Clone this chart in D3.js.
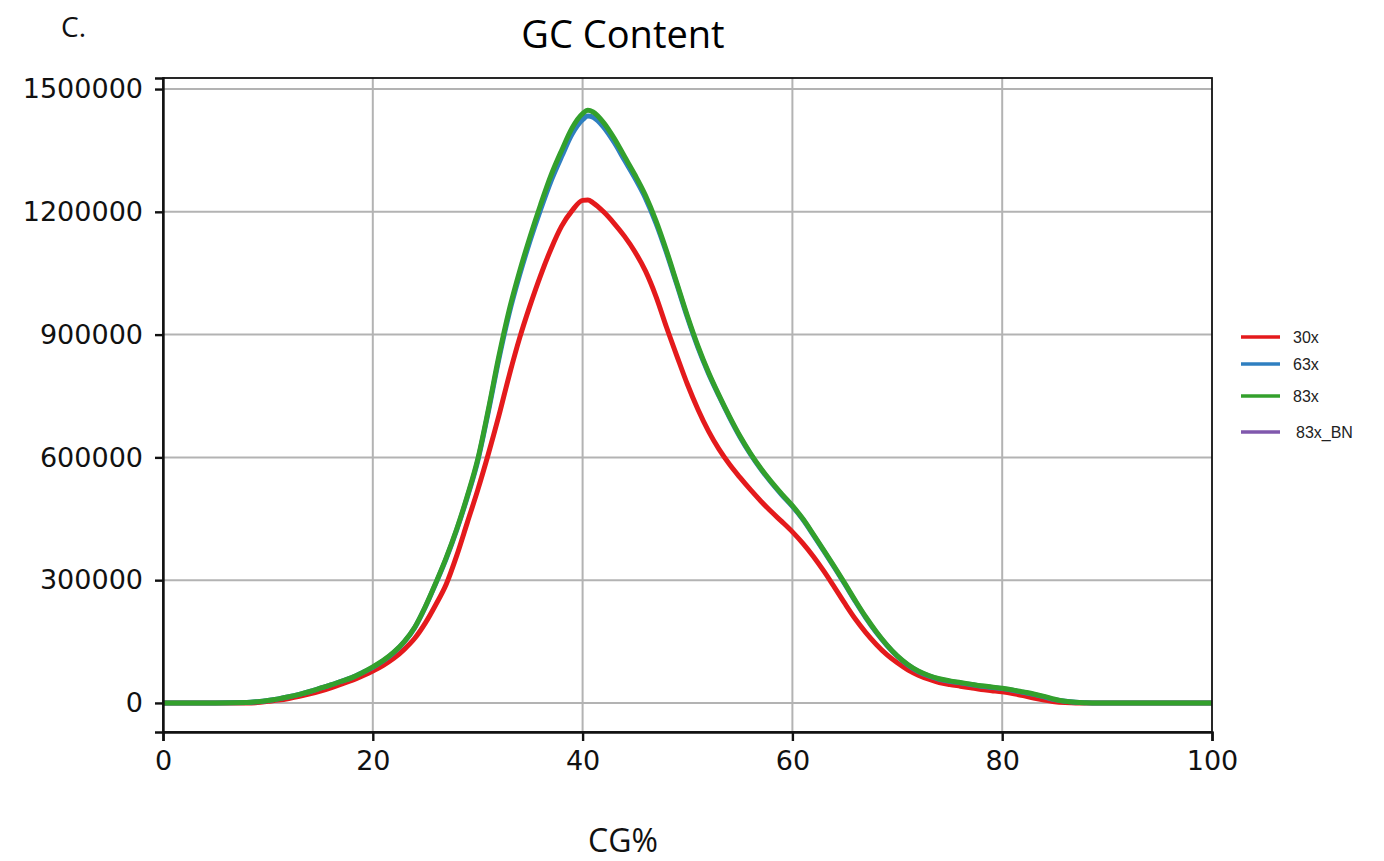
<!DOCTYPE html>
<html>
<head>
<meta charset="utf-8">
<script src="https://cdn.jsdelivr.net/npm/d3@7/dist/d3.min.js"></script>
<style>
  html, body { margin: 0; padding: 0; background: #fff; overflow: hidden; }
  svg { display: block; }
</style>
</head>
<body>
<svg id="chart" width="1384" height="861"></svg>
<script>
// GC percentage bins (x axis)
const gcPercent = [0,5,8,9,10,11,12,13,14,15,16,17,18,19,20,21,22,23,24,25,26,27,28,29,30,
  31,32,33,34,35,36,37,38,39,40,40.5,41,42,43,44,45,46,47,48,49,50,51,52,53,54,55,56,57,58,59,60,
  61,62,63,64,65,66,67,68,69,70,71,72,73,74,75,76,77,78,79,80,81,82,83,84,85,86,87,88,89,100];

// Read counts per GC bin
const cov30x = [0,0,0,1000,4000,7000,11000,16000,22000,29000,37000,46000,55000,66000,78000,92000,109000,131000,158000,195000,240000,290000,360000,440000,520000,
  607000,700000,800000,892000,972000,1045000,1110000,1165000,1203000,1228000,1229000,1222000,1200000,1172000,1140000,1102000,1055000,993000,918000,847000,778000,717000,664000,620000,583000,551000,521000,493000,467000,443000,418000,
  390000,358000,322000,283000,243000,205000,172000,143000,118000,98000,81000,68000,58000,50000,45000,41000,37000,33000,30000,27000,23000,18000,12000,7000,3000,1000,0,0,0,0];

const cov63x = [0,0,1000,3000,6000,10000,15000,21000,28000,36000,44000,53000,62000,74000,87000,103000,123000,149000,184000,234000,292000,353000,423000,502000,591000,
  710000,838000,952000,1046000,1130000,1206000,1276000,1335000,1390000,1425000,1434000,1431000,1407000,1370000,1326000,1282000,1233000,1172000,1100000,1021000,941000,868000,805000,750000,698000,650000,608000,571000,538000,508000,480000,
  448000,410000,371000,331000,290000,248000,208000,172000,141000,114000,93000,77000,66000,58000,53000,49000,45000,41000,38000,35000,31000,26000,21000,15000,8000,4000,1500,500,0,0];

const cov83x = [0,0,1000,3000,6000,10000,15000,21000,28000,36000,44000,53000,62000,74000,88000,104000,124000,150000,185000,235000,293000,355000,425000,505000,595000,
  715000,845000,960000,1055000,1140000,1218000,1290000,1350000,1405000,1440000,1448000,1444000,1418000,1380000,1335000,1290000,1240000,1178000,1105000,1025000,945000,872000,808000,752000,700000,652000,610000,573000,540000,510000,482000,
  450000,412000,373000,333000,292000,250000,210000,174000,142000,115000,94000,78000,67000,59000,54000,50000,46000,42000,39000,36000,32000,27000,22000,16000,9000,4000,1500,500,0,0];

const cov83xBN = [0,0,1000,3000,6000,10000,15000,21000,28000,36000,44000,53000,62000,74000,88000,104000,124000,150000,185000,235000,293000,355000,425000,505000,595000,
  715000,845000,960000,1055000,1140000,1218000,1290000,1350000,1405000,1440000,1448000,1444000,1418000,1380000,1335000,1290000,1240000,1178000,1105000,1025000,945000,872000,808000,752000,700000,652000,610000,573000,540000,510000,482000,
  450000,412000,373000,333000,292000,250000,210000,174000,142000,115000,94000,78000,67000,59000,54000,50000,46000,42000,39000,36000,32000,27000,22000,16000,9000,4000,1500,500,0,0];

const seriesNames = ["30x", "63x", "83x", "83x_BN"];
const seriesColors = ["#e41a1c", "#2f7fc0", "#33a02c", "#8058ad"];
const xTicks = [0, 20, 40, 60, 80, 100];
const yTicks = [0, 300000, 600000, 900000, 1200000, 1500000];

const svg = d3.select("#chart");
const plotLeft = 163, plotRight = 1212, plotTop = 78, plotBottom = 732;

const x = d3.scaleLinear().domain([0, 100]).range([plotLeft, plotRight]);
const y = d3.scaleLinear().domain([-71000, 1527000]).range([plotBottom, plotTop]);

// gridlines
svg.append("g").selectAll("line").data(yTicks).join("line")
  .attr("x1", plotLeft).attr("x2", plotRight)
  .attr("y1", d => y(d)).attr("y2", d => y(d))
  .attr("stroke", "#b3b3b3").attr("stroke-width", 2);
svg.append("g").selectAll("line").data(xTicks.slice(1, -1)).join("line")
  .attr("x1", d => x(d)).attr("x2", d => x(d))
  .attr("y1", plotTop).attr("y2", plotBottom)
  .attr("stroke", "#b3b3b3").attr("stroke-width", 2);

// series lines (BN drawn first, underneath)
const allSeries = [cov30x, cov63x, cov83x, cov83xBN];
const drawOrder = [3, 0, 1, 2];
const line = d3.line()
  .x((d, i) => x(gcPercent[i]))
  .y(d => y(d))
  .curve(d3.curveMonotoneX);
const plot = svg.append("g");
drawOrder.forEach(k => {
  plot.append("path")
    .datum(allSeries[k])
    .attr("d", line)
    .attr("fill", "none")
    .attr("stroke", seriesColors[k])
    .attr("stroke-width", k === 3 ? 3 : 5)
    .attr("stroke-linejoin", "round");
});

// frame
svg.append("rect")
  .attr("x", plotLeft).attr("y", plotTop)
  .attr("width", plotRight - plotLeft).attr("height", plotBottom - plotTop)
  .attr("fill", "none").attr("stroke", "#111").attr("stroke-width", 1.8);

// axes
const xAxis = d3.axisBottom(x).tickValues(xTicks).tickSize(9).tickPadding(10).tickFormat(d3.format("d"));
const gx = svg.append("g").attr("transform", `translate(0,${plotBottom})`).call(xAxis);
gx.select(".domain").attr("stroke", "#111").attr("stroke-width", 2.4);
gx.selectAll(".tick line").attr("stroke", "#111").attr("stroke-width", 2.4);
gx.selectAll(".tick text").attr("font-family", "DejaVu Sans").attr("font-size", 27).attr("fill", "#111");

const yAxis = d3.axisLeft(y).tickValues(yTicks).tickSize(8).tickPadding(12).tickFormat(d3.format("d"));
const gy = svg.append("g").attr("transform", `translate(${plotLeft},0)`).call(yAxis);
gy.select(".domain").attr("stroke", "#111").attr("stroke-width", 2.4);
gy.selectAll(".tick line").attr("stroke", "#111").attr("stroke-width", 2.4);
gy.selectAll(".tick text").attr("font-family", "DejaVu Sans").attr("font-size", 27).attr("fill", "#111");

// title, panel label, axis label
svg.append("text").attr("x", 623).attr("y", 48).attr("text-anchor", "middle")
  .attr("font-family", "Open Sans").attr("font-size", 38).attr("fill", "#000").text("GC Content");
svg.append("text").attr("x", 61).attr("y", 37)
  .attr("font-family", "Open Sans").attr("font-size", 28).attr("fill", "#111").text("C.");
svg.append("text").attr("x", 623).attr("y", 852).attr("text-anchor", "middle")
  .attr("font-family", "Open Sans").attr("font-size", 32).attr("fill", "#111").text("CG%");

// legend
const legendY = [337, 364, 396, 432];
const legendTextX = [1293, 1293, 1293, 1296];
const lg = svg.append("g");
seriesNames.forEach((name, i) => {
  lg.append("line")
    .attr("x1", 1241).attr("x2", 1280)
    .attr("y1", legendY[i]).attr("y2", legendY[i])
    .attr("stroke", seriesColors[i]).attr("stroke-width", 3.5);
  lg.append("text")
    .attr("x", legendTextX[i]).attr("y", legendY[i] + 6)
    .attr("font-family", "Liberation Sans").attr("font-size", 16).attr("fill", "#222")
    .text(name);
});
</script>
</body>
</html>
